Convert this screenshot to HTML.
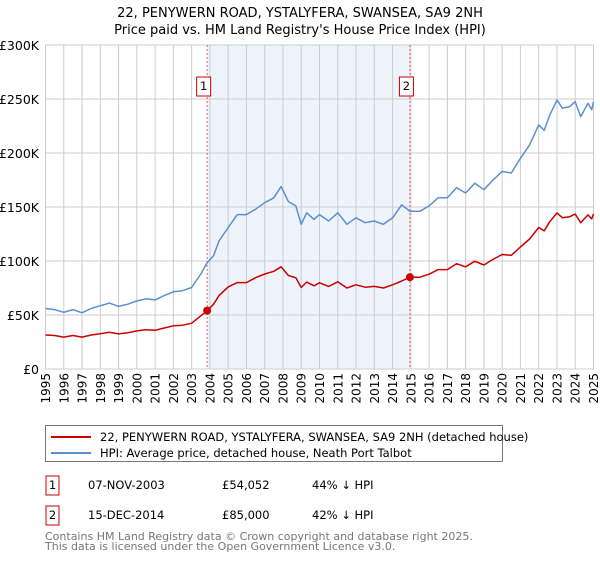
<!DOCTYPE html>
<html><head><meta charset="utf-8"><style>
body{margin:0;background:#fff;font-family:"Liberation Sans","DejaVu Sans",sans-serif;}
svg text{font-family:"DejaVu Sans","Liberation Sans",sans-serif;}
</style></head><body>
<svg id="c" width="600" height="560" xmlns="http://www.w3.org/2000/svg">
<text x="300" y="17" text-anchor="middle" font-size="13" fill="#000">22, PENYWERN ROAD, YSTALYFERA, SWANSEA, SA9 2NH</text>
<text x="300" y="34" text-anchor="middle" font-size="13" fill="#000">Price paid vs. HM Land Registry's House Price Index (HPI)</text>
<g id="plot"></g>
<g>
<rect x="45.5" y="425.5" width="457" height="36" fill="#fff" stroke="#777"/>
<line x1="51" y1="437" x2="91" y2="437" stroke="#cc0000" stroke-width="2"/>
<text x="100" y="441" font-size="11.5">22, PENYWERN ROAD, YSTALYFERA, SWANSEA, SA9 2NH (detached house)</text>
<line x1="51" y1="453" x2="91" y2="453" stroke="#5b8fd0" stroke-width="2"/>
<text x="100" y="457" font-size="11.5">HPI: Average price, detached house, Neath Port Talbot</text>
</g>
<g font-size="11.5">
<rect x="46" y="476" width="13" height="19" fill="#fff" stroke="#cc0000"/>
<text x="52.5" y="489" text-anchor="middle">1</text>
<text x="88" y="489">07-NOV-2003</text><text x="222" y="489">£54,052</text><text x="312" y="489">44% ↓ HPI</text>
<rect x="46" y="506" width="13" height="19" fill="#fff" stroke="#cc0000"/>
<text x="52.5" y="519" text-anchor="middle">2</text>
<text x="88" y="519">15-DEC-2014</text><text x="222" y="519">£85,000</text><text x="312" y="519">42% ↓ HPI</text>
</g>
<text x="45" y="540" font-size="11" fill="#777">Contains HM Land Registry data © Crown copyright and database right 2025.</text>
<text x="45" y="550" font-size="11" fill="#777">This data is licensed under the Open Government Licence v3.0.</text>
</svg>
<script>
const hpiYears=[1995,1995.5,1996,1996.5,1997,1997.5,1998,1998.5,1999,1999.5,2000,2000.5,2001,2001.5,2002,2002.5,2003,2003.5,2003.85,2004.2,2004.5,2005,2005.5,2006,2006.5,2007,2007.5,2007.9,2008.3,2008.7,2009,2009.3,2009.7,2010,2010.5,2011,2011.5,2012,2012.5,2013,2013.5,2014,2014.5,2014.95,2015.5,2016,2016.5,2017,2017.5,2018,2018.5,2019,2019.5,2020,2020.5,2021,2021.5,2022,2022.3,2022.6,2023,2023.3,2023.7,2024,2024.3,2024.7,2024.9,2025];
const hpiValues=[56,55,52.5,55,52,56,58.6,61,58,60,63,65,64,68,71.5,72.5,75.5,88,98.5,105,118.5,131,143,143,148,154,158.5,169,155,151,134,144.6,138.5,143,137,144.6,134,140,135.5,137,134,140,152,146,146,151,158.5,158.5,168,163,172,166,175,183,181.5,195,207.5,226,221,235,249,241.5,243,247.5,233.7,246,240,247.5];
const propValues=[31.5,31,29.5,31,29.5,31.5,32.7,34,32.5,33.5,35.3,36.4,35.8,38,40,40.6,42.3,49.3,54,60,68,76,80,80,84.5,88,90.5,94.6,86.6,84.5,75.5,80.5,77,79.8,76.5,80.7,75,78,75.7,76.5,75,78,81.5,85,85,87.8,92,92,97.5,94.6,99.8,96.3,101.5,106,105.3,113,120.4,131,128,136.3,144.5,140,141,143.5,135.5,142.7,139,143.5];
const sales=[{t:2003.85,v:54.052,label:"1"},{t:2014.95,v:85,label:"2"}];
const yTicks=[0,50,100,150,200,250,300];
const yTickLabels=["£0","£50K","£100K","£150K","£200K","£250K","£300K"];
const xTicks=[1995,1996,1997,1998,1999,2000,2001,2002,2003,2004,2005,2006,2007,2008,2009,2010,2011,2012,2013,2014,2015,2016,2017,2018,2019,2020,2021,2022,2023,2024,2025];
const L=45.5,R=593.5,T=45,B=369;
const xs=t=>L+(t-1995)/30*(R-L);
const ys=v=>B-v/300*(B-T);
const NS="http://www.w3.org/2000/svg";
const g=document.getElementById('plot');
function mk(tag,attrs,parent){const e=document.createElementNS(NS,tag);for(const k in attrs)e.setAttribute(k,attrs[k]);(parent||g).appendChild(e);return e;}
const band=mk('rect',{x:xs(sales[0].t),y:T,width:xs(sales[1].t)-xs(sales[0].t),height:B-T,fill:'#eef3fc'});


xTicks.forEach(t=>{
  const l=mk('line',{x1:xs(t),x2:xs(t),y1:T,y2:B,stroke:'#cccccc','stroke-width':1});
  
  
  const tx=mk('text',{x:0,y:0,'font-size':12,'text-anchor':'end',transform:`translate(${xs(t)+4.5},373) rotate(-90)`});
  tx.textContent=t;
  
  
});
yTicks.forEach((v,i)=>{
  const l=mk('line',{x1:L,x2:R,y1:ys(v),y2:ys(v),stroke:'#cccccc','stroke-width':1});
  
  
  const tx=mk('text',{x:39,y:ys(v)+5,'font-size':12.5,'text-anchor':'end'});
  tx.textContent=yTickLabels[i];
  
  
});
const ax=mk('rect',{x:L,y:T,width:R-L,height:B-T,fill:'none',stroke:'#cccccc'});


sales.forEach(s=>{
  const l=mk('line',{x1:xs(s.t),x2:xs(s.t),y1:T,y2:B,stroke:'#e06060','stroke-dasharray':'2,2','stroke-width':1});
  
  
  const r=mk('rect',{x:xs(s.t)-10.5,y:77,width:14,height:19,fill:'#fff',stroke:'#cc0000'});
  
  
  const tx=mk('text',{x:xs(s.t)-3.5,y:90,'font-size':11.5,'text-anchor':'middle'});
  tx.textContent=s.label;
  
  
});
function path(vals,color,name){
  const d=hpiYears.map((t,i)=>(i?'L':'M')+xs(t).toFixed(1)+','+ys(vals[i]).toFixed(1)).join('');
  const p=mk('path',{d:d,fill:'none',stroke:color,'stroke-width':1.5,'stroke-linejoin':'round'});
  
  
}
path(hpiValues,'#5b8fd0','hpi-line');
path(propValues,'#cc0000','property-price-line');
sales.forEach(s=>{
  const c=mk('circle',{cx:xs(s.t),cy:ys(s.v),r:4,fill:'#cc0000'});
  
  
});
</script>
</body></html>
